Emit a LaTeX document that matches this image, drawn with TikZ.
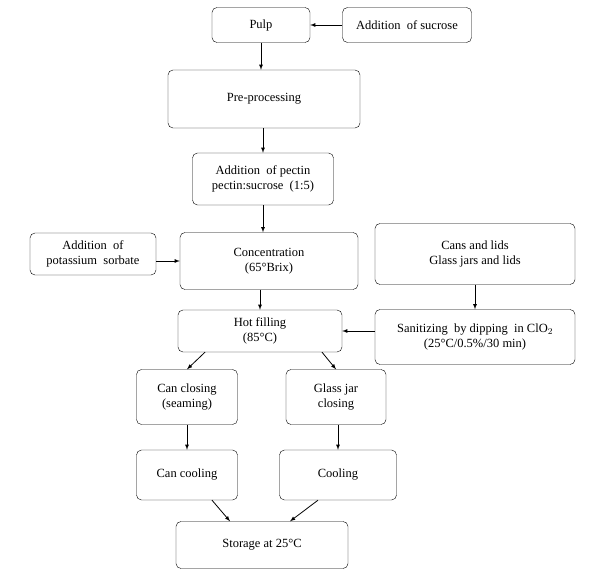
\documentclass[tikz,border=0pt]{standalone}
\usepackage{fontspec}
\setmainfont{Liberation Serif}
\usetikzlibrary{positioning}
\tikzset{
	box/.style={draw, rounded corners=5pt, align=center, font=\fontsize{12.5}{15}\selectfont, inner sep=2pt},
	flow/.style={-latex, thick}
}
\begin{document}
\begin{tikzpicture}[x=1pt, y=-1pt]
	
	\useasboundingbox (0,0) rectangle (604,577);
	
	\node[box, minimum width=98pt, minimum height=35pt] (pulp) at (261,25) {Pulp};
	\node[box, minimum width=129pt, minimum height=35pt] (sucrose) at (407,25) {Addition~ of sucrose};
	\node[box, minimum width=192pt, minimum height=58pt] (pre) at (264,99) {Pre-processing};
	\node[box, minimum width=141pt, minimum height=52pt] (pectin) at (263,179) {Addition~ of pectin\\pectin:sucrose~ (1:5)};
	\node[box, minimum width=178pt, minimum height=57pt] (conc) at (269,261) {Concentration\\(65\textdegree Brix)};
	\node[box, minimum width=126pt, minimum height=42pt] (sorbate) at (93,254) {Addition~ of\\potassium~ sorbate};
	\node[box, minimum width=200pt, minimum height=61pt] (cans) at (475,254) {Cans and lids\\Glass jars and lids};
	\node[box, minimum width=164pt, minimum height=42pt] (hot) at (260,331) {Hot filling\\(85\textdegree C)};
	\node[box, minimum width=200pt, minimum height=55pt] (sanit) at (475,337) {Sanitizing~ by dipping~ in ClO$_2$\\(25\textdegree C/0.5\%/30 min)};
	\node[box, minimum width=101pt, minimum height=55pt] (canclose) at (187,397) {Can closing\\(seaming)};
	\node[box, minimum width=100pt, minimum height=55pt] (jarclose) at (336,397) {Glass jar\\closing};
	\node[box, minimum width=101pt, minimum height=50pt] (cancool) at (187,475) {Can cooling};
	\node[box, minimum width=117pt, minimum height=50pt] (cool) at (338,475) {Cooling};
	\node[box, minimum width=172pt, minimum height=47pt] (store) at (262,545) {Storage at 25\textdegree C};
	
	\draw[flow] (sucrose) -- (pulp);
	\draw[flow] (pulp) -- (pulp |- pre.north);
	\draw[flow] (pre.south -| pectin) -- (pectin);
	\draw[flow] (pectin) -- (pectin |- conc.north);
	\draw[flow] (sorbate.east |- conc) -- (conc);
	\draw[flow] (cans) -- (sanit);
	\draw[flow] (conc.south -| hot) -- (hot);
	\draw[flow] (sanit.west |- hot) -- (hot);
	\draw[flow] ([xshift=-55pt]hot.south) -- (canclose.north);
	\draw[flow] ([xshift=62pt]hot.south) -- (jarclose.north);
	\draw[flow] (canclose) -- (cancool);
	\draw[flow] (jarclose.south -| cool) -- (cool);
	\draw[flow] ([xshift=25pt]cancool.south) -- ([xshift=-32pt]store.north);
	\draw[flow] ([xshift=-20pt]cool.south) -- ([xshift=28pt]store.north);
	
\end{tikzpicture}
\end{document}
